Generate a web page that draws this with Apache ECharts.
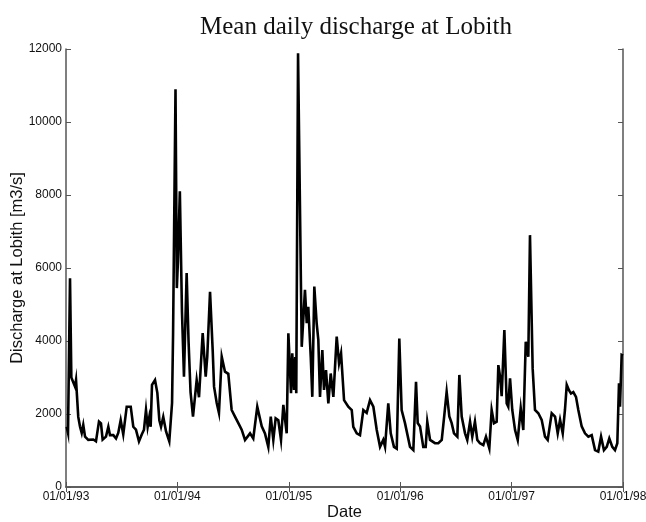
<!DOCTYPE html>
<html>
<head>
<meta charset="utf-8">
<script src="https://cdn.jsdelivr.net/npm/echarts@6/dist/echarts.min.js"></script>
<style>
html,body{margin:0;padding:0;background:#fff;}
#chart{width:646px;height:522px;}
</style>
</head>
<body>
<div id="chart"></div>
<script>
// Date expressed as decimal year
var dateYears = [
1993.006,1993.018,1993.025,1993.036,1993.048,1993.060,1993.081,1993.090,1993.110,1993.126,
1993.141,1993.155,1993.171,1993.200,1993.245,1993.269,1993.296,1993.314,1993.329,1993.359,
1993.380,1993.395,1993.425,1993.449,1993.469,1993.491,1993.514,1993.545,1993.581,1993.604,
1993.628,1993.655,1993.680,1993.700,1993.718,1993.733,1993.748,1993.760,1993.772,1993.799,
1993.820,1993.838,1993.853,1993.873,1993.898,1993.927,1993.940,1993.952,1993.961,1993.983,
1993.995,1994.005,1994.022,1994.041,1994.059,1994.083,1994.100,1994.118,1994.140,1994.173,
1994.194,1994.227,1994.254,1994.268,1994.293,1994.317,1994.329,1994.353,1994.373,1994.398,
1994.427,1994.457,1994.487,1994.517,1994.547,1994.577,1994.607,1994.652,1994.681,1994.717,
1994.757,1994.786,1994.816,1994.838,1994.861,1994.882,1994.906,1994.930,1994.951,1994.981,
1994.996,1995.020,1995.031,1995.047,1995.058,1995.067,1995.083,1995.116,1995.130,1995.145,
1995.161,1995.175,1995.197,1995.211,1995.229,1995.250,1995.265,1995.280,1995.301,1995.316,
1995.334,1995.355,1995.376,1995.400,1995.430,1995.451,1995.469,1995.496,1995.534,1995.565,
1995.579,1995.610,1995.639,1995.669,1995.699,1995.729,1995.759,1995.789,1995.819,1995.848,
1995.864,1995.893,1995.915,1995.944,1995.969,1995.992,1996.013,1996.043,1996.088,1996.118,
1996.142,1996.157,1996.178,1996.207,1996.229,1996.243,1996.268,1996.312,1996.342,1996.373,
1996.396,1996.417,1996.441,1996.462,1996.483,1996.513,1996.531,1996.552,1996.582,1996.602,
1996.627,1996.647,1996.671,1996.692,1996.716,1996.746,1996.770,1996.800,1996.821,1996.842,
1996.866,1996.881,1996.896,1996.911,1996.935,1996.956,1996.970,1996.986,1997.006,1997.031,
1997.055,1997.082,1997.105,1997.127,1997.150,1997.165,1997.189,1997.210,1997.240,1997.270,
1997.300,1997.324,1997.360,1997.390,1997.414,1997.435,1997.459,1997.479,1997.495,1997.515,
1997.533,1997.554,1997.578,1997.599,1997.629,1997.659,1997.689,1997.719,1997.749,1997.778,
1997.803,1997.829,1997.854,1997.877,1997.904,1997.928,1997.949,1997.964,1997.973,1997.988,
1998.000
];
var discharge = [
1650,1480,1500,5720,3000,3000,2750,2930,1920,1650,
1480,1700,1380,1290,1300,1250,1790,1740,1300,1380,
1650,1420,1420,1330,1480,1830,1440,2200,2200,1650,
1570,1250,1440,1570,2110,1650,1920,1650,2800,2930,
2580,1830,1650,1920,1520,1250,1200,2300,4160,10900,
5450,6200,8100,4800,3020,5860,4000,2600,1930,2930,
2460,4220,3020,3570,5350,3730,2750,2300,2030,3570,
3160,3100,2110,1930,1750,1570,1290,1470,1330,2200,
1660,1470,1100,1930,1290,1880,1830,1290,2250,1470,
4210,2570,3660,2660,3560,2570,11880,3840,3840,5400,
4490,4940,3560,2470,5490,4490,4030,2470,3750,2660,
3200,2290,3110,2470,4120,3390,3660,2380,2200,2110,
1650,1470,1420,2110,2030,2380,2200,1570,1100,1290,
1100,2290,1470,1100,1050,4070,2110,1750,1100,1010,
2880,1750,1660,1100,1100,1790,1290,1200,1200,1290,
1970,2610,1930,1750,1470,1380,3070,1930,1470,1290,
1790,1380,1790,1290,1200,1150,1380,1060,2110,1750,
1790,3340,3040,2490,4300,2290,2200,2980,2110,1560,
1290,2160,1560,3980,3570,6900,3250,2110,2020,1840,
1380,1290,2020,1930,1470,1840,1470,2110,2800,2650,
2560,2600,2470,2110,1660,1470,1380,1420,1010,970,
1380,1010,1100,1330,1100,1010,1200,2840,2200,3620,
3600
];
var yearTicks = [1993, 1994, 1995, 1996, 1997, 1998];

var seriesData = dateYears.map(function (t, i) { return [t, discharge[i]]; });

var axisColor = '#555';
var chart = echarts.init(document.getElementById('chart'), null, {renderer: 'canvas'});
chart.setOption({
  animation: false,
  backgroundColor: '#fff',
  title: {
    text: 'Mean daily discharge at Lobith',
    left: 195, top: 10,
    textStyle: {fontFamily: '"Liberation Serif", "Times New Roman", serif', fontWeight: 'normal', fontSize: 25, color: '#111'}
  },
  grid: {left: 66, right: 23, top: 49, bottom: 35, containLabel: false, outerBoundsMode: 'none'},
  xAxis: [{
    type: 'value', min: yearTicks[0], max: yearTicks[yearTicks.length - 1], interval: 1,
    name: 'Date', nameLocation: 'middle', nameGap: 17, nameMoveOverlap: false,
    nameTextStyle: {fontFamily: '"Liberation Sans", Arial, sans-serif', fontSize: 16.5, color: '#111'},
    axisLine: {lineStyle: {color: axisColor, width: 1.5}},
    axisTick: {inside: true, length: 5, lineStyle: {color: axisColor}},
    axisLabel: {
      margin: 4, color: '#111', fontFamily: '"Liberation Sans", Arial, sans-serif', fontSize: 12,
      showMinLabel: true, showMaxLabel: true, hideOverlap: false,
      formatter: function (v) { return '01/01/' + String(Math.round(v)).slice(2); }
    },
    splitLine: {show: false}
  }, {
    type: 'value', position: 'top', min: yearTicks[0], max: yearTicks[yearTicks.length - 1], interval: 1,
    axisLine: {lineStyle: {color: axisColor, width: 1.5}},
    axisTick: {inside: true, length: 5, lineStyle: {color: axisColor}},
    axisLabel: {show: false},
    splitLine: {show: false}
  }],
  yAxis: [{
    type: 'value', min: 0, max: 12000, interval: 2000,
    name: 'Discharge at Lobith [m3/s]', nameLocation: 'middle', nameGap: 40, nameMoveOverlap: false,
    nameTextStyle: {fontFamily: '"Liberation Sans", Arial, sans-serif', fontSize: 16.5, color: '#111'},
    axisLine: {show: true, lineStyle: {color: axisColor, width: 1.5}},
    axisTick: {show: true, inside: true, length: 5, lineStyle: {color: axisColor}},
    axisLabel: {margin: 4, color: '#111', fontFamily: '"Liberation Sans", Arial, sans-serif', fontSize: 12,
      formatter: function (v) { return String(v); }},
    splitLine: {show: false}
  }, {
    type: 'value', position: 'right', min: 0, max: 12000, interval: 2000,
    axisLine: {show: true, lineStyle: {color: axisColor, width: 1.5}},
    axisTick: {show: true, inside: true, length: 5, lineStyle: {color: axisColor}},
    axisLabel: {show: false},
    splitLine: {show: false}
  }],
  series: [{
    type: 'line',
    data: seriesData,
    xAxisIndex: 0, yAxisIndex: 0,
    showSymbol: false, symbol: 'none',
    lineStyle: {color: '#000', width: 2.6, join: 'miter'},
    z: 1
  }]
});
</script>
</body>
</html>
